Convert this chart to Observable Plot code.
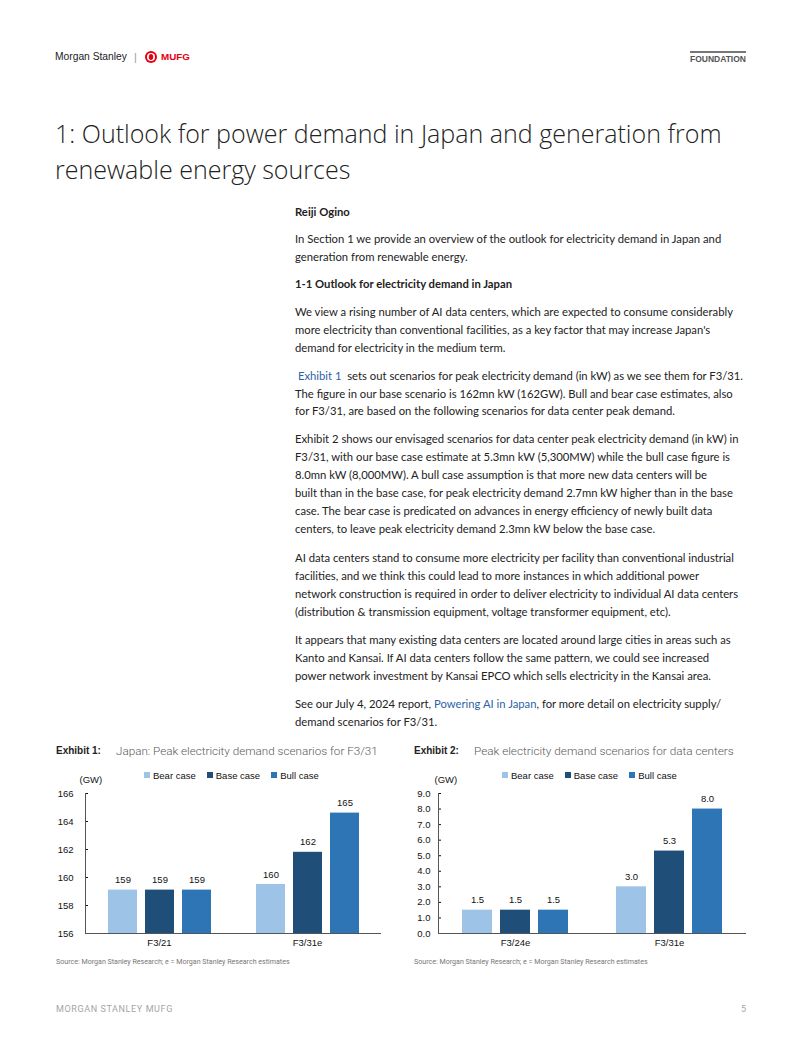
<!DOCTYPE html>
<html><head><meta charset="utf-8">
<script src="https://cdn.jsdelivr.net/npm/d3@7"></script>
<script src="https://cdn.jsdelivr.net/npm/@observablehq/plot@0.6"></script>
<style>
html,body{margin:0;padding:0;background:#fff;}
body{width:802px;height:1037px;position:relative;overflow:hidden;font-family:Lato,"Open Sans",sans-serif;color:#222;}
.t{position:absolute;white-space:nowrap;}
.body{font-family:Lato,"Noto Sans",sans-serif;font-size:13px;line-height:18px;color:#222;}
.b{font-weight:700;}
a,.lnk{color:#2d62a8;text-decoration:none;}
.chart{position:absolute;}
.lgwrap{position:absolute;height:12px;display:flex;align-items:center;}
.lg-swatches{font-family:"Liberation Sans",Arial,sans-serif !important;font-size:9.5px !important;min-height:0 !important;margin:0 !important;color:#111 !important;}
.lg-swatch{margin-right:11px !important;}
.lg-swatch > svg{margin-right:3px !important;}
</style></head>
<body>
<script>
// ---------- chart data ----------
const cases = ["Bear case", "Base case", "Bull case"];
const caseColors = ["#9dc3e6", "#1f4e79", "#2e75b6"];

// Exhibit 1: Japan peak electricity demand (GW)
const periods1 = ["F3/21", "F3/31e"];
const bear1 = [159.1, 159.5];
const base1 = [159.1, 161.8];
const bull1 = [159.1, 164.6];
const yTicks1 = [156, 158, 160, 162, 164, 166];

// Exhibit 2: data center peak electricity demand (GW)
const periods2 = ["F3/24e", "F3/31e"];
const bear2 = [1.5, 3.0];
const base2 = [1.5, 5.3];
const bull2 = [1.5, 8.0];
const yTicks2 = [0, 1, 2, 3, 4, 5, 6, 7, 8, 9];

// ---------- page text ----------
const titleLines = ["1: Outlook for power demand in Japan and generation from", "renewable energy sources"];
const bodyLines = [
  [212, "Reiji Ogino", true],
  [239, "In Section 1 we provide an overview of the outlook for electricity demand in Japan and"],
  [257, "generation from renewable energy."],
  [284, "1-1 Outlook for electricity demand in Japan", true],
  [312, "We view a rising number of AI data centers, which are expected to consume considerably"],
  [330, "more electricity than conventional facilities, as a key factor that may increase Japan's"],
  [348, "demand for electricity in the medium term."],
  [376, "&nbsp;<span class='lnk'>Exhibit 1</span>&nbsp; sets out scenarios for peak electricity demand (in kW) as we see them for F3/31."],
  [394, "The figure in our base scenario is 162mn kW (162GW). Bull and bear case estimates, also"],
  [411, "for F3/31, are based on the following scenarios for data center peak demand."],
  [439, "Exhibit 2 shows our envisaged scenarios for data center peak electricity demand (in kW) in"],
  [457, "F3/31, with our base case estimate at 5.3mn kW (5,300MW) while the bull case figure is"],
  [475, "8.0mn kW (8,000MW). A bull case assumption is that more new data centers will be"],
  [493, "built than in the base case, for peak electricity demand 2.7mn kW higher than in the base"],
  [511, "case. The bear case is predicated on advances in energy efficiency of newly built data"],
  [529, "centers, to leave peak electricity demand 2.3mn kW below the base case."],
  [558, "AI data centers stand to consume more electricity per facility than conventional industrial"],
  [576, "facilities, and we think this could lead to more instances in which additional power"],
  [594, "network construction is required in order to deliver electricity to individual AI data centers"],
  [612, "(distribution &amp; transmission equipment, voltage transformer equipment, etc)."],
  [640, "It appears that many existing data centers are located around large cities in areas such as"],
  [658, "Kanto and Kansai. If AI data centers follow the same pattern, we could see increased"],
  [676, "power network investment by Kansai EPCO which sells electricity in the Kansai area."],
  [704, "See our July 4, 2024 report, <span class='lnk'>Powering AI in Japan</span>, for more detail on electricity supply/"],
  [722, "demand scenarios for F3/31."]
];

function place(html, x, yc, style, lh) {
  const d = document.createElement("div");
  d.className = "t";
  d.innerHTML = html;
  lh = lh || 18;
  d.style.left = x + "px";
  d.style.top = (yc - lh / 2) + "px";
  d.style.lineHeight = lh + "px";
  Object.assign(d.style, style || {});
  document.body.appendChild(d);
  return d;
}
function fit(el, target) {
  const w = el.getBoundingClientRect().width;
  const fs = parseFloat(getComputedStyle(el).fontSize);
  el.style.fontSize = (fs * target / w) + "px";
  return fs * target / w;
}

// header
fit(place("Morgan Stanley", 55, 57, {fontFamily: '"Liberation Sans Narrow","Liberation Sans",Arial', fontSize: "11px", color: "#222"}, 14), 72);
place("|", 134, 57, {fontFamily: '"Liberation Sans",Arial', fontSize: "11px", color: "#999"}, 14);
place('<svg width="14" height="14" viewBox="0 0 14 14"><circle cx="7" cy="7" r="6" fill="#e60012"/><circle cx="7" cy="7" r="4" fill="#fff"/><ellipse cx="7" cy="7" rx="2.2" ry="3" fill="#e60012"/></svg>', 144, 57, {}, 14);
fit(place("MUFG", 161, 57, {fontFamily: '"Liberation Sans Narrow","Liberation Sans",Arial', fontWeight: "700", fontSize: "10px", color: "#e60012"}, 14), 29);
const fnd = place("FOUNDATION", 690, 59, {fontFamily: '"Liberation Sans Narrow","Liberation Sans",Arial', fontWeight: "700", fontSize: "9px", color: "#555"}, 12);
fit(fnd, 56);
place("", 690, 52, {width: "56px", height: "2px", background: "#777"}, 2);

// title
const tl1 = place(titleLines[0], 55, 133, {fontFamily: '"Open Sans",Roboto,Lato', fontWeight: "300", fontSize: "28px", color: "#222"}, 34);
const tfs = fit(tl1, 667);
place(titleLines[1], 55, 169, {fontFamily: '"Open Sans",Roboto,Lato', fontWeight: "300", fontSize: tfs + "px", color: "#222"}, 34);

// body
const bodyEls = bodyLines.map(([y, html, bold]) => {
  const d = place(html, 295, y, {}, 18);
  d.classList.add("body");
  if (bold) d.classList.add("b");
  return d;
});
const bfs = fit(bodyEls[1], 427);
bodyEls.forEach(d => d.style.fontSize = bfs + "px");

// exhibit titles & sources
const exT = (x, label, x2, sub, w2) => {
  fit(place(label, x, 751, {fontFamily: '"Liberation Sans",Arial', fontWeight: "700", fontSize: "10px", color: "#222"}, 14), 45);
  fit(place(sub, x2, 751, {fontFamily: "Roboto,Arial", fontWeight: "300", fontSize: "12px", color: "#5a5a5a"}, 14), w2);
};
exT(56, "Exhibit 1:", 116, "Japan: Peak electricity demand scenarios for F3/31", 262);
exT(414, "Exhibit 2:", 474, "Peak electricity demand scenarios for data centers", 260);
fit(place("Source: Morgan Stanley Research; e = Morgan Stanley Research estimates", 56, 962, {fontFamily: "Roboto,Arial", fontSize: "7.5px", color: "#777"}, 10), 234);
fit(place("Source: Morgan Stanley Research; e = Morgan Stanley Research estimates", 414, 962, {fontFamily: "Roboto,Arial", fontSize: "7.5px", color: "#777"}, 10), 234);

// footer
fit(place("MORGAN STANLEY MUFG", 56, 1009, {fontFamily: "Roboto,Arial", fontSize: "9px", letterSpacing: "0.6px", color: "#a5a5a5"}, 12), 117);
place("5", 741, 1009, {fontFamily: "Roboto,Arial", fontSize: "9px", color: "#a5a5a5"}, 12);

// ---------- charts ----------
function grouped(o) {
  const rows = o.periods.flatMap((p, i) => [
    {period: p, case: cases[0], value: o.bear[i]},
    {period: p, case: cases[1], value: o.base[i]},
    {period: p, case: cases[2], value: o.bull[i]}
  ]);
  const lo = o.ticks[0], hi = o.ticks[o.ticks.length - 1];
  const build = (useSuper) => Plot.plot({
    width: o.width, height: o.height,
    marginLeft: o.marginLeft, marginRight: o.marginRight, marginTop: 20, marginBottom: 25,
    style: {fontFamily: '"Liberation Sans", Arial, sans-serif', fontSize: "9.5px", color: "#111", background: "transparent", overflow: "visible"},
    fx: {domain: o.periods, padding: 0, label: null, axis: "bottom", tickSize: 0, tickPadding: 6},
    x: {domain: cases, axis: null, paddingInner: o.pi, paddingOuter: o.po},
    y: {domain: [lo, hi], ticks: o.ticks, tickFormat: o.tickFmt, tickSize: -3, tickPadding: o.tickPadding,
        label: "(GW)", labelAnchor: "top", labelArrow: "none", labelOffset: o.labelOffset},
    color: {domain: cases, range: caseColors},
    marks: [
      Plot.barY(rows, {fx: "period", x: "case", y1: lo, y2: "value", fill: "case"}),
      Plot.text(rows, {fx: "period", x: "case", y: "value", text: d => o.valFmt(d.value), dy: -10, fill: "#111"}),
      Plot.ruleY([lo], {stroke: "#555"}),
      useSuper ? Plot.frame({anchor: "left", facet: "super", stroke: "#555"}) : null
    ]
  });
  let svg;
  try { svg = build(true); } catch (e) { svg = build(false); }
  svg.classList.add("chart");
  svg.style.left = o.left + "px";
  svg.style.top = o.top + "px";
  document.body.appendChild(svg);

  const lg = Plot.legend({color: {domain: cases, range: caseColors}, legend: "swatches", swatchSize: 6, className: "lg"});
  const wrap = document.createElement("div");
  wrap.className = "lgwrap";
  wrap.style.left = o.legendLeft + "px";
  wrap.style.top = "769px";
  wrap.appendChild(lg);
  document.body.appendChild(wrap);
}

grouped({periods: periods1, bear: bear1, base: base1, bull: bull1, ticks: yTicks1,
  tickFmt: d3.format("d"), valFmt: d3.format(".0f"),
  left: 40, top: 773, width: 346, height: 185, marginLeft: 44, marginRight: 5,
  pi: 0.227, po: 0.593, tickPadding: 15, labelOffset: 6, legendLeft: 144});

grouped({periods: periods2, bear: bear2, base: base2, bull: bull2, ticks: yTicks2,
  tickFmt: d3.format(".1f"), valFmt: d3.format(".1f"),
  left: 400, top: 773, width: 350, height: 185, marginLeft: 38, marginRight: 4,
  pi: 0.213, po: 0.594, tickPadding: 11, labelOffset: 4, legendLeft: 502});
</script>
</body></html>
